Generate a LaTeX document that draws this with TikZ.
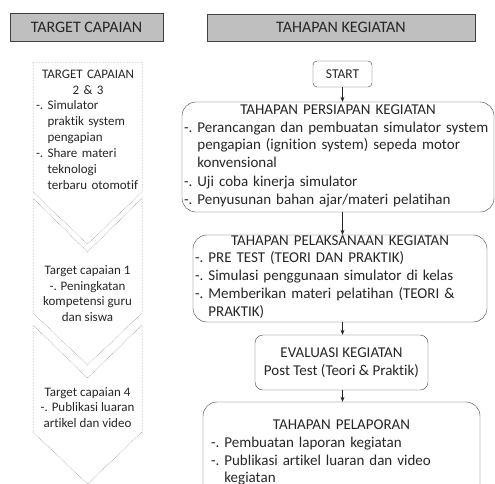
\documentclass[tikz,border=0pt]{standalone}
\usepackage{fontspec}
\setmainfont{Carlito}[Ligatures=NoCommon]
\usetikzlibrary{arrows.meta}
\hyphenpenalty=10000

\definecolor{txt}{HTML}{262626}
\definecolor{hdrfill}{HTML}{BFBFBF}
\definecolor{edge}{HTML}{404040}

% item with "-. " in front, lines of one item split by \\
\newcommand{\itm}[1]{\par\noindent-.\ \begin{tabular}[t]{@{}l@{}}#1\end{tabular}}

\tikzset{
  header/.style={draw=edge, fill=hdrfill, text=txt, font=\fontsize{16}{19}\selectfont, inner sep=0pt},
  stagebox/.style={draw=edge, rounded corners=14pt, text=txt, align=left, inner sep=0pt,
    font=\fontsize{15}{17.8}\selectfont},
  chev/.style={draw=gray, densely dotted, line width=0.5pt},
  chevtext/.style={text=txt, align=center, inner sep=0pt, font=\fontsize{13}{15.7}\selectfont},
  flow/.style={draw=txt, line width=0.6pt, -{Stealth[length=5pt,width=4pt]}}
}

\begin{document}
\begin{tikzpicture}[x=1pt, y=-1pt]
\useasboundingbox (0,0) rectangle (495,483);
\clip (0,0) rectangle (495,483);

% --- Headers ---
\node[header, minimum width=153pt, minimum height=28pt] (hdrL) at (86.5,27) {TARGET CAPAIAN};
\node[header, minimum width=268pt, minimum height=27pt] (hdrR) at (341,27.5) {TAHAPAN KEGIATAN};

% --- Chevrons (left column) ---
\def\xl{33} \def\xr{142} \def\xm{87.5}
\draw[chev] (\xl,62) -- (\xr,62) -- (\xr,192) -- (\xm,244) -- (\xl,192) -- cycle;
\draw[chev] (\xl,198) -- (\xm,252) -- (\xr,198) -- (\xr,313) -- (\xm,365) -- (\xl,313) -- cycle;
\draw[chev] (\xl,325) -- (\xm,378) -- (\xr,325) -- (\xr,432) -- (\xm,484) -- (\xl,432) -- cycle;

\node[chevtext, text width=104pt, align=left] (tc23) at (88,132) {%
  {\centering TARGET CAPAIAN\\ 2 \& 3\par}
  \itm{Simulator\\ praktik system\\ pengapian}
  \itm{Share materi\\ teknologi\\ terbaru otomotif}};
\node[chevtext] (tc1) at (87.5,293.5) {Target capaian 1\\ -. Peningkatan\\ kompetensi guru\\ dan siswa};
\node[chevtext] (tc4) at (87.5,407.5) {Target capaian 4\\ -. Publikasi luaran\\ artikel dan video};

% --- Flow of stages (right column) ---
\node[draw=edge, rounded corners=4pt, text=txt, font=\fontsize{13.5}{16}\selectfont,
  minimum width=59pt, minimum height=26pt, inner sep=0pt] (start) at (342.5,74) {START};

\node[stagebox, minimum width=312pt, minimum height=110pt, text width=308pt] (persiapan) at (338,157) {%
  {\centering TAHAPAN PERSIAPAN KEGIATAN\par}
  \itm{Perancangan dan pembuatan simulator system\\ pengapian (ignition system) sepeda motor\\ konvensional}
  \itm{Uji coba kinerja simulator}
  \itm{Penyusunan bahan ajar/materi pelatihan}};

\node[stagebox, minimum width=294pt, minimum height=87pt, text width=290pt] (pelaksanaan) at (340,278.5) {%
  {\centering TAHAPAN PELAKSANAAN KEGIATAN\par}
  \itm{PRE TEST (TEORI DAN PRAKTIK)}
  \itm{Simulasi penggunaan simulator di kelas}
  \itm{Memberikan materi pelatihan (TEORI \&\\ PRAKTIK)}};

\node[stagebox, rounded corners=8pt, align=center, minimum width=173pt, minimum height=55pt] (evaluasi) at (341.5,362.5) {%
  EVALUASI KEGIATAN\\ Post Test (Teori \& Praktik)};

\node[stagebox, minimum width=277pt, minimum height=104pt, text width=261pt] (pelaporan) at (341.5,454) {%
  {\centering TAHAPAN PELAPORAN\par}
  \itm{Pembuatan laporan kegiatan}
  \itm{Publikasi artikel luaran dan video\\ kegiatan}};

% arrows between stages
\draw[flow] (start.south) -- (start.south |- persiapan.north);
\draw[flow] (start.south |- persiapan.south) -- (start.south |- pelaksanaan.north);
\draw[flow] (start.south |- pelaksanaan.south) -- (start.south |- evaluasi.north);
\draw[flow] (start.south |- evaluasi.south) -- (start.south |- pelaporan.north);

\end{tikzpicture}
\end{document}
